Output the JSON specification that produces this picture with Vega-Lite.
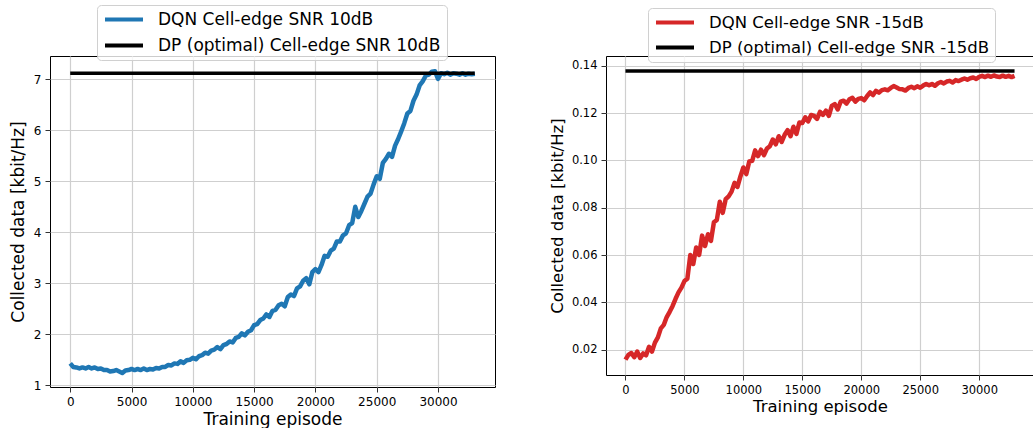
{
  "$schema": "https://vega.github.io/schema/vega-lite/v6.json",
  "padding": {"left": 8, "top": 4, "right": 0, "bottom": 0},
  "spacing": 52,
  "config": {
    "view": {"stroke": "black", "strokeWidth": 1},
    "font": "DejaVu Sans",
    "axis": {
      "domain": false, "grid": true, "gridColor": "#cfcfcf", "gridWidth": 1.2,
      "tickColor": "#333333", "tickSize": 5, "tickWidth": 1,
      "labelFont": "DejaVu Sans", "labelColor": "black", "labelPadding": 4,
      "titleFont": "DejaVu Sans", "titleFontWeight": "normal", "titleColor": "black"
    },
    "legend": {
      "orient": "none", "title": null, "symbolType": "stroke", "symbolSize": 1444,
      "symbolStrokeWidth": 4, "clipHeight": 17, "rowPadding": 8, "labelOffset": 13,
      "padding": 6, "strokeColor": "#d0d0d0", "fillColor": "rgba(255,255,255,0.8)",
      "cornerRadius": 4, "labelFont": "DejaVu Sans", "labelColor": "black", "labelLimit": 600
    }
  },
  "resolve": {"scale": {"color": "independent", "x": "independent", "y": "independent"}},
  "datasets": {
    "left": [
      {"episode": 0, "value": 1.43, "series": "DQN Cell-edge SNR 10dB"},
      {"episode": 250, "value": 1.36, "series": "DQN Cell-edge SNR 10dB"},
      {"episode": 500, "value": 1.35, "series": "DQN Cell-edge SNR 10dB"},
      {"episode": 750, "value": 1.33, "series": "DQN Cell-edge SNR 10dB"},
      {"episode": 1000, "value": 1.35, "series": "DQN Cell-edge SNR 10dB"},
      {"episode": 1250, "value": 1.33, "series": "DQN Cell-edge SNR 10dB"},
      {"episode": 1500, "value": 1.36, "series": "DQN Cell-edge SNR 10dB"},
      {"episode": 1750, "value": 1.33, "series": "DQN Cell-edge SNR 10dB"},
      {"episode": 2000, "value": 1.35, "series": "DQN Cell-edge SNR 10dB"},
      {"episode": 2250, "value": 1.32, "series": "DQN Cell-edge SNR 10dB"},
      {"episode": 2500, "value": 1.33, "series": "DQN Cell-edge SNR 10dB"},
      {"episode": 2750, "value": 1.30, "series": "DQN Cell-edge SNR 10dB"},
      {"episode": 3000, "value": 1.30, "series": "DQN Cell-edge SNR 10dB"},
      {"episode": 3250, "value": 1.27, "series": "DQN Cell-edge SNR 10dB"},
      {"episode": 3500, "value": 1.28, "series": "DQN Cell-edge SNR 10dB"},
      {"episode": 3750, "value": 1.30, "series": "DQN Cell-edge SNR 10dB"},
      {"episode": 4000, "value": 1.27, "series": "DQN Cell-edge SNR 10dB"},
      {"episode": 4250, "value": 1.24, "series": "DQN Cell-edge SNR 10dB"},
      {"episode": 4500, "value": 1.29, "series": "DQN Cell-edge SNR 10dB"},
      {"episode": 4750, "value": 1.30, "series": "DQN Cell-edge SNR 10dB"},
      {"episode": 5000, "value": 1.32, "series": "DQN Cell-edge SNR 10dB"},
      {"episode": 5250, "value": 1.30, "series": "DQN Cell-edge SNR 10dB"},
      {"episode": 5500, "value": 1.32, "series": "DQN Cell-edge SNR 10dB"},
      {"episode": 5750, "value": 1.30, "series": "DQN Cell-edge SNR 10dB"},
      {"episode": 6000, "value": 1.33, "series": "DQN Cell-edge SNR 10dB"},
      {"episode": 6250, "value": 1.30, "series": "DQN Cell-edge SNR 10dB"},
      {"episode": 6500, "value": 1.32, "series": "DQN Cell-edge SNR 10dB"},
      {"episode": 6750, "value": 1.31, "series": "DQN Cell-edge SNR 10dB"},
      {"episode": 7000, "value": 1.34, "series": "DQN Cell-edge SNR 10dB"},
      {"episode": 7250, "value": 1.33, "series": "DQN Cell-edge SNR 10dB"},
      {"episode": 7500, "value": 1.36, "series": "DQN Cell-edge SNR 10dB"},
      {"episode": 7750, "value": 1.36, "series": "DQN Cell-edge SNR 10dB"},
      {"episode": 8000, "value": 1.40, "series": "DQN Cell-edge SNR 10dB"},
      {"episode": 8250, "value": 1.39, "series": "DQN Cell-edge SNR 10dB"},
      {"episode": 8500, "value": 1.43, "series": "DQN Cell-edge SNR 10dB"},
      {"episode": 8750, "value": 1.42, "series": "DQN Cell-edge SNR 10dB"},
      {"episode": 9000, "value": 1.47, "series": "DQN Cell-edge SNR 10dB"},
      {"episode": 9250, "value": 1.44, "series": "DQN Cell-edge SNR 10dB"},
      {"episode": 9500, "value": 1.49, "series": "DQN Cell-edge SNR 10dB"},
      {"episode": 9750, "value": 1.50, "series": "DQN Cell-edge SNR 10dB"},
      {"episode": 10000, "value": 1.54, "series": "DQN Cell-edge SNR 10dB"},
      {"episode": 10250, "value": 1.51, "series": "DQN Cell-edge SNR 10dB"},
      {"episode": 10500, "value": 1.57, "series": "DQN Cell-edge SNR 10dB"},
      {"episode": 10750, "value": 1.59, "series": "DQN Cell-edge SNR 10dB"},
      {"episode": 11000, "value": 1.64, "series": "DQN Cell-edge SNR 10dB"},
      {"episode": 11250, "value": 1.62, "series": "DQN Cell-edge SNR 10dB"},
      {"episode": 11500, "value": 1.68, "series": "DQN Cell-edge SNR 10dB"},
      {"episode": 11750, "value": 1.70, "series": "DQN Cell-edge SNR 10dB"},
      {"episode": 12000, "value": 1.75, "series": "DQN Cell-edge SNR 10dB"},
      {"episode": 12250, "value": 1.71, "series": "DQN Cell-edge SNR 10dB"},
      {"episode": 12500, "value": 1.79, "series": "DQN Cell-edge SNR 10dB"},
      {"episode": 12750, "value": 1.81, "series": "DQN Cell-edge SNR 10dB"},
      {"episode": 13000, "value": 1.86, "series": "DQN Cell-edge SNR 10dB"},
      {"episode": 13250, "value": 1.84, "series": "DQN Cell-edge SNR 10dB"},
      {"episode": 13500, "value": 1.93, "series": "DQN Cell-edge SNR 10dB"},
      {"episode": 13750, "value": 1.95, "series": "DQN Cell-edge SNR 10dB"},
      {"episode": 14000, "value": 2.02, "series": "DQN Cell-edge SNR 10dB"},
      {"episode": 14250, "value": 1.98, "series": "DQN Cell-edge SNR 10dB"},
      {"episode": 14500, "value": 2.05, "series": "DQN Cell-edge SNR 10dB"},
      {"episode": 14750, "value": 2.08, "series": "DQN Cell-edge SNR 10dB"},
      {"episode": 15000, "value": 2.18, "series": "DQN Cell-edge SNR 10dB"},
      {"episode": 15250, "value": 2.20, "series": "DQN Cell-edge SNR 10dB"},
      {"episode": 15500, "value": 2.28, "series": "DQN Cell-edge SNR 10dB"},
      {"episode": 15750, "value": 2.31, "series": "DQN Cell-edge SNR 10dB"},
      {"episode": 16000, "value": 2.39, "series": "DQN Cell-edge SNR 10dB"},
      {"episode": 16250, "value": 2.34, "series": "DQN Cell-edge SNR 10dB"},
      {"episode": 16500, "value": 2.46, "series": "DQN Cell-edge SNR 10dB"},
      {"episode": 16750, "value": 2.48, "series": "DQN Cell-edge SNR 10dB"},
      {"episode": 17000, "value": 2.57, "series": "DQN Cell-edge SNR 10dB"},
      {"episode": 17250, "value": 2.60, "series": "DQN Cell-edge SNR 10dB"},
      {"episode": 17500, "value": 2.55, "series": "DQN Cell-edge SNR 10dB"},
      {"episode": 17750, "value": 2.73, "series": "DQN Cell-edge SNR 10dB"},
      {"episode": 18000, "value": 2.78, "series": "DQN Cell-edge SNR 10dB"},
      {"episode": 18250, "value": 2.75, "series": "DQN Cell-edge SNR 10dB"},
      {"episode": 18500, "value": 2.90, "series": "DQN Cell-edge SNR 10dB"},
      {"episode": 18750, "value": 2.94, "series": "DQN Cell-edge SNR 10dB"},
      {"episode": 19000, "value": 3.05, "series": "DQN Cell-edge SNR 10dB"},
      {"episode": 19250, "value": 3.10, "series": "DQN Cell-edge SNR 10dB"},
      {"episode": 19500, "value": 2.98, "series": "DQN Cell-edge SNR 10dB"},
      {"episode": 19750, "value": 3.22, "series": "DQN Cell-edge SNR 10dB"},
      {"episode": 20000, "value": 3.28, "series": "DQN Cell-edge SNR 10dB"},
      {"episode": 20250, "value": 3.22, "series": "DQN Cell-edge SNR 10dB"},
      {"episode": 20500, "value": 3.36, "series": "DQN Cell-edge SNR 10dB"},
      {"episode": 20750, "value": 3.54, "series": "DQN Cell-edge SNR 10dB"},
      {"episode": 21000, "value": 3.52, "series": "DQN Cell-edge SNR 10dB"},
      {"episode": 21250, "value": 3.64, "series": "DQN Cell-edge SNR 10dB"},
      {"episode": 21500, "value": 3.68, "series": "DQN Cell-edge SNR 10dB"},
      {"episode": 21750, "value": 3.82, "series": "DQN Cell-edge SNR 10dB"},
      {"episode": 22000, "value": 3.82, "series": "DQN Cell-edge SNR 10dB"},
      {"episode": 22250, "value": 3.94, "series": "DQN Cell-edge SNR 10dB"},
      {"episode": 22500, "value": 3.98, "series": "DQN Cell-edge SNR 10dB"},
      {"episode": 22750, "value": 4.14, "series": "DQN Cell-edge SNR 10dB"},
      {"episode": 23000, "value": 4.18, "series": "DQN Cell-edge SNR 10dB"},
      {"episode": 23250, "value": 4.50, "series": "DQN Cell-edge SNR 10dB"},
      {"episode": 23500, "value": 4.30, "series": "DQN Cell-edge SNR 10dB"},
      {"episode": 23750, "value": 4.42, "series": "DQN Cell-edge SNR 10dB"},
      {"episode": 24000, "value": 4.56, "series": "DQN Cell-edge SNR 10dB"},
      {"episode": 24250, "value": 4.70, "series": "DQN Cell-edge SNR 10dB"},
      {"episode": 24500, "value": 4.76, "series": "DQN Cell-edge SNR 10dB"},
      {"episode": 24750, "value": 4.94, "series": "DQN Cell-edge SNR 10dB"},
      {"episode": 25000, "value": 5.10, "series": "DQN Cell-edge SNR 10dB"},
      {"episode": 25250, "value": 5.05, "series": "DQN Cell-edge SNR 10dB"},
      {"episode": 25500, "value": 5.36, "series": "DQN Cell-edge SNR 10dB"},
      {"episode": 25750, "value": 5.44, "series": "DQN Cell-edge SNR 10dB"},
      {"episode": 26000, "value": 5.54, "series": "DQN Cell-edge SNR 10dB"},
      {"episode": 26250, "value": 5.48, "series": "DQN Cell-edge SNR 10dB"},
      {"episode": 26500, "value": 5.70, "series": "DQN Cell-edge SNR 10dB"},
      {"episode": 26750, "value": 5.83, "series": "DQN Cell-edge SNR 10dB"},
      {"episode": 27000, "value": 5.98, "series": "DQN Cell-edge SNR 10dB"},
      {"episode": 27250, "value": 6.14, "series": "DQN Cell-edge SNR 10dB"},
      {"episode": 27500, "value": 6.33, "series": "DQN Cell-edge SNR 10dB"},
      {"episode": 27750, "value": 6.38, "series": "DQN Cell-edge SNR 10dB"},
      {"episode": 28000, "value": 6.58, "series": "DQN Cell-edge SNR 10dB"},
      {"episode": 28250, "value": 6.70, "series": "DQN Cell-edge SNR 10dB"},
      {"episode": 28500, "value": 6.88, "series": "DQN Cell-edge SNR 10dB"},
      {"episode": 28750, "value": 6.96, "series": "DQN Cell-edge SNR 10dB"},
      {"episode": 29000, "value": 7.07, "series": "DQN Cell-edge SNR 10dB"},
      {"episode": 29250, "value": 7.09, "series": "DQN Cell-edge SNR 10dB"},
      {"episode": 29500, "value": 7.15, "series": "DQN Cell-edge SNR 10dB"},
      {"episode": 29750, "value": 7.16, "series": "DQN Cell-edge SNR 10dB"},
      {"episode": 30000, "value": 7.01, "series": "DQN Cell-edge SNR 10dB"},
      {"episode": 30250, "value": 7.12, "series": "DQN Cell-edge SNR 10dB"},
      {"episode": 30500, "value": 7.10, "series": "DQN Cell-edge SNR 10dB"},
      {"episode": 30750, "value": 7.13, "series": "DQN Cell-edge SNR 10dB"},
      {"episode": 31000, "value": 7.09, "series": "DQN Cell-edge SNR 10dB"},
      {"episode": 31250, "value": 7.12, "series": "DQN Cell-edge SNR 10dB"},
      {"episode": 31500, "value": 7.11, "series": "DQN Cell-edge SNR 10dB"},
      {"episode": 31750, "value": 7.09, "series": "DQN Cell-edge SNR 10dB"},
      {"episode": 32000, "value": 7.12, "series": "DQN Cell-edge SNR 10dB"},
      {"episode": 32250, "value": 7.09, "series": "DQN Cell-edge SNR 10dB"},
      {"episode": 32500, "value": 7.11, "series": "DQN Cell-edge SNR 10dB"},
      {"episode": 32750, "value": 7.10, "series": "DQN Cell-edge SNR 10dB"},
      {"episode": 33000, "value": 7.11, "series": "DQN Cell-edge SNR 10dB"},
      {"episode": 0, "value": 7.12, "series": "DP (optimal) Cell-edge SNR 10dB"},
      {"episode": 33000, "value": 7.12, "series": "DP (optimal) Cell-edge SNR 10dB"}
    ],
    "right": [
      {"episode": 0, "value": 0.0158, "series": "DQN Cell-edge SNR -15dB"},
      {"episode": 250, "value": 0.0178, "series": "DQN Cell-edge SNR -15dB"},
      {"episode": 500, "value": 0.0186, "series": "DQN Cell-edge SNR -15dB"},
      {"episode": 750, "value": 0.0168, "series": "DQN Cell-edge SNR -15dB"},
      {"episode": 1000, "value": 0.0192, "series": "DQN Cell-edge SNR -15dB"},
      {"episode": 1250, "value": 0.0165, "series": "DQN Cell-edge SNR -15dB"},
      {"episode": 1500, "value": 0.0184, "series": "DQN Cell-edge SNR -15dB"},
      {"episode": 1750, "value": 0.0176, "series": "DQN Cell-edge SNR -15dB"},
      {"episode": 2000, "value": 0.0212, "series": "DQN Cell-edge SNR -15dB"},
      {"episode": 2250, "value": 0.0192, "series": "DQN Cell-edge SNR -15dB"},
      {"episode": 2500, "value": 0.0230, "series": "DQN Cell-edge SNR -15dB"},
      {"episode": 2750, "value": 0.0252, "series": "DQN Cell-edge SNR -15dB"},
      {"episode": 3000, "value": 0.0290, "series": "DQN Cell-edge SNR -15dB"},
      {"episode": 3250, "value": 0.0305, "series": "DQN Cell-edge SNR -15dB"},
      {"episode": 3500, "value": 0.0338, "series": "DQN Cell-edge SNR -15dB"},
      {"episode": 3750, "value": 0.0360, "series": "DQN Cell-edge SNR -15dB"},
      {"episode": 4000, "value": 0.0385, "series": "DQN Cell-edge SNR -15dB"},
      {"episode": 4250, "value": 0.0415, "series": "DQN Cell-edge SNR -15dB"},
      {"episode": 4500, "value": 0.0442, "series": "DQN Cell-edge SNR -15dB"},
      {"episode": 4750, "value": 0.0462, "series": "DQN Cell-edge SNR -15dB"},
      {"episode": 5000, "value": 0.0490, "series": "DQN Cell-edge SNR -15dB"},
      {"episode": 5250, "value": 0.0500, "series": "DQN Cell-edge SNR -15dB"},
      {"episode": 5500, "value": 0.0600, "series": "DQN Cell-edge SNR -15dB"},
      {"episode": 5750, "value": 0.0562, "series": "DQN Cell-edge SNR -15dB"},
      {"episode": 6000, "value": 0.0632, "series": "DQN Cell-edge SNR -15dB"},
      {"episode": 6250, "value": 0.0600, "series": "DQN Cell-edge SNR -15dB"},
      {"episode": 6500, "value": 0.0682, "series": "DQN Cell-edge SNR -15dB"},
      {"episode": 6750, "value": 0.0638, "series": "DQN Cell-edge SNR -15dB"},
      {"episode": 7000, "value": 0.0688, "series": "DQN Cell-edge SNR -15dB"},
      {"episode": 7250, "value": 0.0660, "series": "DQN Cell-edge SNR -15dB"},
      {"episode": 7500, "value": 0.0738, "series": "DQN Cell-edge SNR -15dB"},
      {"episode": 7750, "value": 0.0748, "series": "DQN Cell-edge SNR -15dB"},
      {"episode": 8000, "value": 0.0825, "series": "DQN Cell-edge SNR -15dB"},
      {"episode": 8250, "value": 0.0778, "series": "DQN Cell-edge SNR -15dB"},
      {"episode": 8500, "value": 0.0836, "series": "DQN Cell-edge SNR -15dB"},
      {"episode": 8750, "value": 0.0848, "series": "DQN Cell-edge SNR -15dB"},
      {"episode": 9000, "value": 0.0868, "series": "DQN Cell-edge SNR -15dB"},
      {"episode": 9250, "value": 0.0905, "series": "DQN Cell-edge SNR -15dB"},
      {"episode": 9500, "value": 0.0888, "series": "DQN Cell-edge SNR -15dB"},
      {"episode": 9750, "value": 0.0932, "series": "DQN Cell-edge SNR -15dB"},
      {"episode": 10000, "value": 0.0970, "series": "DQN Cell-edge SNR -15dB"},
      {"episode": 10250, "value": 0.0942, "series": "DQN Cell-edge SNR -15dB"},
      {"episode": 10500, "value": 0.0995, "series": "DQN Cell-edge SNR -15dB"},
      {"episode": 10750, "value": 0.0998, "series": "DQN Cell-edge SNR -15dB"},
      {"episode": 11000, "value": 0.1042, "series": "DQN Cell-edge SNR -15dB"},
      {"episode": 11250, "value": 0.1018, "series": "DQN Cell-edge SNR -15dB"},
      {"episode": 11500, "value": 0.1045, "series": "DQN Cell-edge SNR -15dB"},
      {"episode": 11750, "value": 0.1022, "series": "DQN Cell-edge SNR -15dB"},
      {"episode": 12000, "value": 0.1050, "series": "DQN Cell-edge SNR -15dB"},
      {"episode": 12250, "value": 0.1060, "series": "DQN Cell-edge SNR -15dB"},
      {"episode": 12500, "value": 0.1088, "series": "DQN Cell-edge SNR -15dB"},
      {"episode": 12750, "value": 0.1068, "series": "DQN Cell-edge SNR -15dB"},
      {"episode": 13000, "value": 0.1102, "series": "DQN Cell-edge SNR -15dB"},
      {"episode": 13250, "value": 0.1078, "series": "DQN Cell-edge SNR -15dB"},
      {"episode": 13500, "value": 0.1108, "series": "DQN Cell-edge SNR -15dB"},
      {"episode": 13750, "value": 0.1128, "series": "DQN Cell-edge SNR -15dB"},
      {"episode": 14000, "value": 0.1102, "series": "DQN Cell-edge SNR -15dB"},
      {"episode": 14250, "value": 0.1142, "series": "DQN Cell-edge SNR -15dB"},
      {"episode": 14500, "value": 0.1112, "series": "DQN Cell-edge SNR -15dB"},
      {"episode": 14750, "value": 0.1160, "series": "DQN Cell-edge SNR -15dB"},
      {"episode": 15000, "value": 0.1158, "series": "DQN Cell-edge SNR -15dB"},
      {"episode": 15250, "value": 0.1182, "series": "DQN Cell-edge SNR -15dB"},
      {"episode": 15500, "value": 0.1165, "series": "DQN Cell-edge SNR -15dB"},
      {"episode": 15750, "value": 0.1192, "series": "DQN Cell-edge SNR -15dB"},
      {"episode": 16000, "value": 0.1188, "series": "DQN Cell-edge SNR -15dB"},
      {"episode": 16250, "value": 0.1175, "series": "DQN Cell-edge SNR -15dB"},
      {"episode": 16500, "value": 0.1205, "series": "DQN Cell-edge SNR -15dB"},
      {"episode": 16750, "value": 0.1192, "series": "DQN Cell-edge SNR -15dB"},
      {"episode": 17000, "value": 0.1210, "series": "DQN Cell-edge SNR -15dB"},
      {"episode": 17250, "value": 0.1188, "series": "DQN Cell-edge SNR -15dB"},
      {"episode": 17500, "value": 0.1230, "series": "DQN Cell-edge SNR -15dB"},
      {"episode": 17750, "value": 0.1238, "series": "DQN Cell-edge SNR -15dB"},
      {"episode": 18000, "value": 0.1215, "series": "DQN Cell-edge SNR -15dB"},
      {"episode": 18250, "value": 0.1248, "series": "DQN Cell-edge SNR -15dB"},
      {"episode": 18500, "value": 0.1252, "series": "DQN Cell-edge SNR -15dB"},
      {"episode": 18750, "value": 0.1240, "series": "DQN Cell-edge SNR -15dB"},
      {"episode": 19000, "value": 0.1258, "series": "DQN Cell-edge SNR -15dB"},
      {"episode": 19250, "value": 0.1264, "series": "DQN Cell-edge SNR -15dB"},
      {"episode": 19500, "value": 0.1248, "series": "DQN Cell-edge SNR -15dB"},
      {"episode": 19750, "value": 0.1260, "series": "DQN Cell-edge SNR -15dB"},
      {"episode": 20000, "value": 0.1263, "series": "DQN Cell-edge SNR -15dB"},
      {"episode": 20250, "value": 0.1254, "series": "DQN Cell-edge SNR -15dB"},
      {"episode": 20500, "value": 0.1272, "series": "DQN Cell-edge SNR -15dB"},
      {"episode": 20750, "value": 0.1287, "series": "DQN Cell-edge SNR -15dB"},
      {"episode": 21000, "value": 0.1276, "series": "DQN Cell-edge SNR -15dB"},
      {"episode": 21250, "value": 0.1294, "series": "DQN Cell-edge SNR -15dB"},
      {"episode": 21500, "value": 0.1286, "series": "DQN Cell-edge SNR -15dB"},
      {"episode": 21750, "value": 0.1297, "series": "DQN Cell-edge SNR -15dB"},
      {"episode": 22000, "value": 0.1300, "series": "DQN Cell-edge SNR -15dB"},
      {"episode": 22250, "value": 0.1296, "series": "DQN Cell-edge SNR -15dB"},
      {"episode": 22500, "value": 0.1306, "series": "DQN Cell-edge SNR -15dB"},
      {"episode": 22750, "value": 0.1314, "series": "DQN Cell-edge SNR -15dB"},
      {"episode": 23000, "value": 0.1308, "series": "DQN Cell-edge SNR -15dB"},
      {"episode": 23250, "value": 0.1301, "series": "DQN Cell-edge SNR -15dB"},
      {"episode": 23500, "value": 0.1300, "series": "DQN Cell-edge SNR -15dB"},
      {"episode": 23750, "value": 0.1295, "series": "DQN Cell-edge SNR -15dB"},
      {"episode": 24000, "value": 0.1306, "series": "DQN Cell-edge SNR -15dB"},
      {"episode": 24250, "value": 0.1311, "series": "DQN Cell-edge SNR -15dB"},
      {"episode": 24500, "value": 0.1305, "series": "DQN Cell-edge SNR -15dB"},
      {"episode": 24750, "value": 0.1313, "series": "DQN Cell-edge SNR -15dB"},
      {"episode": 25000, "value": 0.1307, "series": "DQN Cell-edge SNR -15dB"},
      {"episode": 25250, "value": 0.1316, "series": "DQN Cell-edge SNR -15dB"},
      {"episode": 25500, "value": 0.1323, "series": "DQN Cell-edge SNR -15dB"},
      {"episode": 25750, "value": 0.1317, "series": "DQN Cell-edge SNR -15dB"},
      {"episode": 26000, "value": 0.1323, "series": "DQN Cell-edge SNR -15dB"},
      {"episode": 26250, "value": 0.1315, "series": "DQN Cell-edge SNR -15dB"},
      {"episode": 26500, "value": 0.1326, "series": "DQN Cell-edge SNR -15dB"},
      {"episode": 26750, "value": 0.1331, "series": "DQN Cell-edge SNR -15dB"},
      {"episode": 27000, "value": 0.1325, "series": "DQN Cell-edge SNR -15dB"},
      {"episode": 27250, "value": 0.1333, "series": "DQN Cell-edge SNR -15dB"},
      {"episode": 27500, "value": 0.1336, "series": "DQN Cell-edge SNR -15dB"},
      {"episode": 27750, "value": 0.1329, "series": "DQN Cell-edge SNR -15dB"},
      {"episode": 28000, "value": 0.1339, "series": "DQN Cell-edge SNR -15dB"},
      {"episode": 28250, "value": 0.1335, "series": "DQN Cell-edge SNR -15dB"},
      {"episode": 28500, "value": 0.1341, "series": "DQN Cell-edge SNR -15dB"},
      {"episode": 28750, "value": 0.1346, "series": "DQN Cell-edge SNR -15dB"},
      {"episode": 29000, "value": 0.1341, "series": "DQN Cell-edge SNR -15dB"},
      {"episode": 29250, "value": 0.1347, "series": "DQN Cell-edge SNR -15dB"},
      {"episode": 29500, "value": 0.1350, "series": "DQN Cell-edge SNR -15dB"},
      {"episode": 29750, "value": 0.1344, "series": "DQN Cell-edge SNR -15dB"},
      {"episode": 30000, "value": 0.1353, "series": "DQN Cell-edge SNR -15dB"},
      {"episode": 30250, "value": 0.1357, "series": "DQN Cell-edge SNR -15dB"},
      {"episode": 30500, "value": 0.1352, "series": "DQN Cell-edge SNR -15dB"},
      {"episode": 30750, "value": 0.1358, "series": "DQN Cell-edge SNR -15dB"},
      {"episode": 31000, "value": 0.1353, "series": "DQN Cell-edge SNR -15dB"},
      {"episode": 31250, "value": 0.1359, "series": "DQN Cell-edge SNR -15dB"},
      {"episode": 31500, "value": 0.1354, "series": "DQN Cell-edge SNR -15dB"},
      {"episode": 31750, "value": 0.1352, "series": "DQN Cell-edge SNR -15dB"},
      {"episode": 32000, "value": 0.1358, "series": "DQN Cell-edge SNR -15dB"},
      {"episode": 32250, "value": 0.1353, "series": "DQN Cell-edge SNR -15dB"},
      {"episode": 32500, "value": 0.1357, "series": "DQN Cell-edge SNR -15dB"},
      {"episode": 32750, "value": 0.1352, "series": "DQN Cell-edge SNR -15dB"},
      {"episode": 33000, "value": 0.1357, "series": "DQN Cell-edge SNR -15dB"},
      {"episode": 0, "value": 0.1378, "series": "DP (optimal) Cell-edge SNR -15dB"},
      {"episode": 33000, "value": 0.1378, "series": "DP (optimal) Cell-edge SNR -15dB"}
    ]
  },
  "hconcat": [
    {
      "width": 445,
      "height": 331,
      "data": {"name": "left"},
      "encoding": {
        "x": {"field": "episode", "type": "quantitative",
              "scale": {"domain": [-1650, 34650], "nice": false, "zero": false},
              "axis": {"values": [0, 5000, 10000, 15000, 20000, 25000, 30000], "format": "d",
                       "title": "Training episode", "labelFontSize": 12, "titleFontSize": 17, "titlePadding": 4}},
        "y": {"field": "value", "type": "quantitative",
              "scale": {"domain": [0.967, 7.457], "nice": false, "zero": false},
              "axis": {"values": [1, 2, 3, 4, 5, 6, 7], "format": "d",
                       "title": "Collected data [kbit/Hz]", "labelFontSize": 12, "titleFontSize": 17, "titlePadding": 6}},
        "color": {"field": "series", "type": "nominal",
                  "scale": {"domain": ["DQN Cell-edge SNR 10dB", "DP (optimal) Cell-edge SNR 10dB"], "range": ["#1f77b4", "#000000"]},
                  "legend": {"legendX": 47, "legendY": -51, "labelFontSize": 17}}
      },
      "layer": [
        {"transform": [{"filter": "datum.series === 'DQN Cell-edge SNR 10dB'"}],
         "mark": {"type": "line", "strokeWidth": 4.5, "strokeJoin": "round"}},
        {"transform": [{"filter": "datum.series === 'DP (optimal) Cell-edge SNR 10dB'"}],
         "mark": {"type": "line", "strokeWidth": 3.5}}
      ]
    },
    {
      "width": 428,
      "height": 319,
      "data": {"name": "right"},
      "encoding": {
        "x": {"field": "episode", "type": "quantitative",
              "scale": {"domain": [-1650, 34650], "nice": false, "zero": false},
              "axis": {"values": [0, 5000, 10000, 15000, 20000, 25000, 30000], "format": "d",
                       "title": "Training episode", "labelFontSize": 11.5, "titleFontSize": 16.5, "titlePadding": 3}},
        "y": {"field": "value", "type": "quantitative",
              "scale": {"domain": [0.0093, 0.1441], "nice": false, "zero": false},
              "axis": {"values": [0.02, 0.04, 0.06, 0.08, 0.1, 0.12, 0.14], "format": ".2f",
                       "title": "Collected data [kbit/Hz]", "labelFontSize": 11.5, "titleFontSize": 16.5, "titlePadding": 6}},
        "color": {"field": "series", "type": "nominal",
                  "scale": {"domain": ["DQN Cell-edge SNR -15dB", "DP (optimal) Cell-edge SNR -15dB"], "range": ["#d62728", "#000000"]},
                  "legend": {"legendX": 42, "legendY": -48, "labelFontSize": 16.5}}
      },
      "layer": [
        {"transform": [{"filter": "datum.series === 'DQN Cell-edge SNR -15dB'"}],
         "mark": {"type": "line", "strokeWidth": 4.5, "strokeJoin": "round"}},
        {"transform": [{"filter": "datum.series === 'DP (optimal) Cell-edge SNR -15dB'"}],
         "mark": {"type": "line", "strokeWidth": 3.5}}
      ]
    }
  ]
}
